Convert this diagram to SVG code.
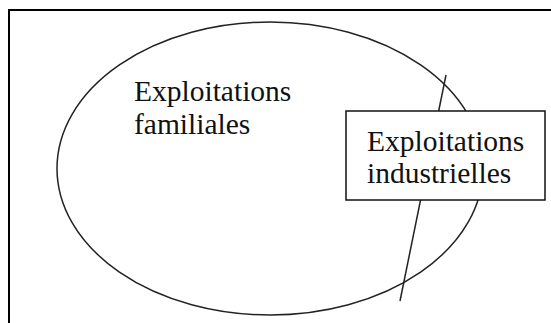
<svg xmlns="http://www.w3.org/2000/svg" width="551" height="323" viewBox="0 0 551 323">
  <style>
    .lbl { font-family: "Liberation Serif", "Times New Roman", serif; font-size: 29.5px; fill: #111; }
    .stroke { fill: none; stroke: #222; stroke-width: 1.5; }
  </style>
  <rect x="0" y="0" width="551" height="323" fill="#ffffff"/>
  <g id="frame">
    <rect x="9" y="10" width="560" height="330" fill="none" stroke="#000" stroke-width="2"/>
  </g>
  <g id="familiales">
    <ellipse class="stroke" cx="270" cy="168.5" rx="213" ry="146.5"/>
    <text class="lbl" x="134" y="101">Exploitations</text>
    <text class="lbl" x="134" y="134">familiales</text>
  </g>
  <g id="connectors">
    <line class="stroke" x1="446" y1="75" x2="400" y2="301"/>
  </g>
  <g id="industrielles">
    <rect x="346" y="111" width="199" height="89" fill="#ffffff" stroke="#111" stroke-width="1.5"/>
    <text class="lbl" x="367" y="151">Exploitations</text>
    <text class="lbl" x="367" y="183">industrielles</text>
  </g>
</svg>
